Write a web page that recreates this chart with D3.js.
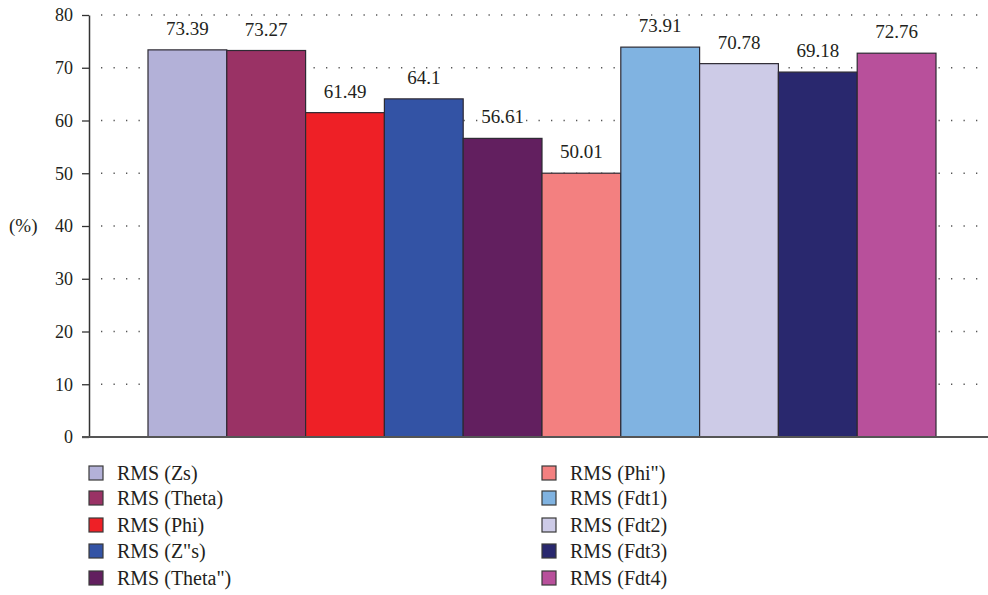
<!DOCTYPE html>
<html>
<head>
<meta charset="utf-8">
<script src="https://cdn.jsdelivr.net/npm/d3@7"></script>
<style>
  html, body { margin: 0; padding: 0; background: #fff; }
  svg { display: block; }
</style>
</head>
<body>
<svg id="chart" width="988" height="595" font-family="Liberation Serif"></svg>
<script>
// RMS scores per feature (%)
const categories = ["RMS (Zs)", "RMS (Theta)", "RMS (Phi)", "RMS (Z\"s)", "RMS (Theta\")",
                    "RMS (Phi\")", "RMS (Fdt1)", "RMS (Fdt2)", "RMS (Fdt3)", "RMS (Fdt4)"];
const values = [73.39, 73.27, 61.49, 64.1, 56.61, 50.01, 73.91, 70.78, 69.18, 72.76];
const valueLabels = ["73.39", "73.27", "61.49", "64.1", "56.61", "50.01", "73.91", "70.78", "69.18", "72.76"];
const colors = ["#b3b1d8", "#9a3265", "#ee2026", "#3353a5", "#621f5f",
                "#f38080", "#80b3e1", "#cdcbe7", "#29286e", "#b8509b"];
const yTicks = [0, 10, 20, 30, 40, 50, 60, 70, 80];
const yAxisTitle = "(%)";

const FONT = "Liberation Serif";
const INK = "#231f20";

const svg = d3.select("#chart");
const axisX = 89;

const y = d3.scaleLinear().domain([0, 80]).range([437, 15]);
const x = d3.scaleBand().domain(categories).range([148, 936]).paddingInner(0).paddingOuter(0);

// dotted horizontal grid
svg.append("g")
  .selectAll("line")
  .data(yTicks.filter(d => d > 0))
  .join("line")
  .attr("x1", axisX + 12).attr("x2", 988)
  .attr("y1", d => y(d)).attr("y2", d => y(d))
  .attr("stroke", "#555")
  .attr("stroke-width", 1.3)
  .attr("stroke-dasharray", "1.3,11.2");

// bars
svg.append("g")
  .selectAll("rect")
  .data(categories)
  .join("rect")
  .attr("x", d => x(d))
  .attr("width", x.bandwidth())
  .attr("y", (d, i) => y(values[i]))
  .attr("height", (d, i) => y(0) - y(values[i]))
  .attr("fill", (d, i) => colors[i])
  .attr("stroke", "#2d2a33")
  .attr("stroke-width", 1.2);

// value labels
svg.append("g")
  .selectAll("text")
  .data(categories)
  .join("text")
  .attr("x", d => x(d) + x.bandwidth() / 2)
  .attr("y", (d, i) => y(values[i]) - 15)
  .attr("text-anchor", "middle")
  .attr("font-family", FONT)
  .attr("font-size", 19)
  .attr("fill", INK)
  .text((d, i) => valueLabels[i]);

// y axis
const yAxis = d3.axisLeft(y).tickValues(yTicks).tickSize(7).tickPadding(9).tickSizeOuter(0);
const gy = svg.append("g").attr("transform", `translate(${axisX},0)`).call(yAxis)
  .attr("font-family", FONT).attr("font-size", 18);
gy.select(".domain").attr("stroke", "#333").attr("stroke-width", 1.5);
gy.selectAll(".tick line").attr("stroke", "#333").attr("stroke-width", 1.3);
gy.selectAll(".tick text")
  .attr("font-family", FONT)
  .attr("font-size", 18)
  .attr("fill", INK);

// baseline
svg.append("line")
  .attr("x1", axisX - 7).attr("x2", 988)
  .attr("y1", y(0)).attr("y2", y(0))
  .attr("stroke", "#555").attr("stroke-width", 2);

// axis title
svg.append("text")
  .attr("x", 9).attr("y", y(40) + 6)
  .attr("font-family", FONT)
  .attr("font-size", 19)
  .attr("fill", INK)
  .text(yAxisTitle);

// legend: two columns of five
const legend = svg.append("g");
const items = legend.selectAll("g")
  .data(categories)
  .join("g")
  .attr("transform", (d, i) => {
    const col = Math.floor(i / 5), row = i % 5;
    const lx = col === 0 ? 89 : 542;
    const ly = [473, 498, 525, 551, 578][row];
    return `translate(${lx},${ly})`;
  });
items.append("rect")
  .attr("x", 0).attr("y", -7)
  .attr("width", 14).attr("height", 14)
  .attr("fill", (d, i) => colors[i])
  .attr("stroke", "#3a3a3a")
  .attr("stroke-width", 1.2);
items.append("text")
  .attr("x", 28).attr("y", 6.5)
  .attr("font-family", FONT)
  .attr("font-size", 20)
  .attr("fill", INK)
  .text(d => d);
</script>
</body>
</html>
